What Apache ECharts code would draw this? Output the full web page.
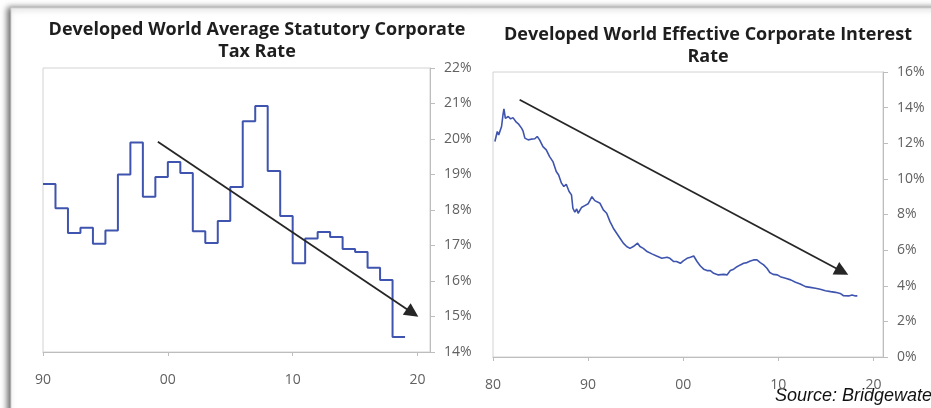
<!DOCTYPE html>
<html>
<head>
<meta charset="utf-8">
<script src="https://cdn.jsdelivr.net/npm/echarts@6/dist/echarts.min.js"></script>
<style>
  html, body { margin: 0; padding: 0; background: #ffffff; }
  #chart { width: 931px; height: 408px; }
</style>
</head>
<body>
<div id="chart"></div>
<script>
// Average statutory corporate tax rate, developed world (annual, %)
const taxYears = [1990, 1991, 1992, 1993, 1994, 1995, 1996, 1997, 1998, 1999,
                  2000, 2001, 2002, 2003, 2004, 2005, 2006, 2007, 2008, 2009,
                  2010, 2011, 2012, 2013, 2014, 2015, 2016, 2017, 2018, 2019];
const taxRates = [18.73, 18.05, 17.35, 17.5, 17.05, 17.42, 19.0, 19.9, 18.37, 18.93,
                  19.35, 19.04, 17.4, 17.07, 17.69, 18.65, 20.5, 20.93, 19.1, 17.83,
                  16.5, 17.2, 17.38, 17.24, 16.9, 16.82, 16.37, 16.03, 14.42, 14.42];

// Effective corporate interest rate, developed world (%)
const rateYears = [1980.2, 1980.45, 1980.6, 1980.9, 1981.05, 1981.15, 1981.3, 1981.6, 1981.85, 1982.1,
                   1982.45, 1982.7, 1983.0, 1983.15, 1983.35, 1983.7, 1984.0, 1984.4, 1984.65, 1984.9,
                   1985.25, 1985.6, 1985.95, 1986.3, 1986.65, 1986.9, 1987.2, 1987.45, 1987.7, 1988.0,
                   1988.25, 1988.4, 1988.6, 1988.8, 1988.95, 1989.3, 1989.65, 1990.0, 1990.4, 1990.7,
                   1991.25, 1991.6, 1991.95, 1992.3, 1992.65, 1993.0, 1993.35, 1993.7, 1994.05, 1994.4,
                   1994.75, 1995.2, 1995.45, 1995.8, 1996.2, 1996.7, 1997.2, 1997.75, 1998.3, 1998.6,
                   1999.0, 1999.3, 1999.7, 2000.0, 2000.4, 2000.75, 2001.1, 2001.45, 2001.8, 2002.15,
                   2002.5, 2002.85, 2003.2, 2003.7, 2004.25, 2004.6, 2004.95, 2005.3, 2005.65, 2006.0,
                   2006.35, 2006.7, 2007.05, 2007.4, 2007.75, 2008.1, 2008.45, 2008.8, 2009.1, 2009.45,
                   2009.9, 2010.2, 2010.75, 2011.3, 2011.8, 2012.3, 2012.85, 2013.35, 2013.9, 2014.4,
                   2014.95, 2015.5, 2016.0, 2016.5, 2016.85, 2017.4, 2017.75, 2018.1, 2018.3];
const rateValues = [12.1, 12.66, 12.47, 12.94, 13.6, 13.93, 13.4, 13.5, 13.37, 13.44,
                    13.18, 13.07, 12.85, 12.7, 12.29, 12.19, 12.23, 12.25, 12.38, 12.19,
                    11.81, 11.63, 11.25, 10.97, 10.41, 10.22, 9.76, 9.57, 9.7, 9.29,
                    9.1, 8.35, 8.13, 8.31, 8.07, 8.39, 8.5, 8.6, 9.0, 8.78,
                    8.63, 8.26, 8.07, 7.6, 7.23, 6.95, 6.67, 6.39, 6.2, 6.1,
                    6.2, 6.39, 6.2, 6.1, 5.92, 5.79, 5.67, 5.54, 5.6, 5.54,
                    5.36, 5.36, 5.26, 5.4, 5.54, 5.6, 5.67, 5.36, 5.11, 4.93,
                    4.85, 4.85, 4.7, 4.61, 4.64, 4.61, 4.85, 4.93, 5.07, 5.17,
                    5.26, 5.3, 5.39, 5.45, 5.45, 5.3, 5.17, 4.98, 4.74, 4.64,
                    4.61, 4.51, 4.42, 4.33, 4.2, 4.1, 3.95, 3.91, 3.86, 3.8,
                    3.72, 3.67, 3.63, 3.57, 3.44, 3.43, 3.48, 3.43, 3.43];

// Trend arrows: [year, value] start and end
const taxTrend = [[1999.2, 19.92], [2019.6, 15.1]];
const rateTrend = [[1982.8, 14.44], [2016.7, 4.8]];

// Axis tick labels
const taxXTickLabels = { 1990: '90', 2000: '00', 2010: '10', 2020: '20' };
const rateXTickLabels = { 1980: '80', 1990: '90', 2000: '00', 2010: '10', 2020: '20' };

const FONT = 'Open Sans';
const LINE_BLUE = '#3f54ae';
const AXIS_GREY = '#bdbdbd';
const LABEL_GREY = '#616161';

const zip = (xs, ys) => xs.map((x, i) => [x, ys[i]]);

function xAxisFor(gridIndex, min, labels) {
  return {
    type: 'value', gridIndex, min, max: 2021, interval: 10,
    axisLine: { show: true, lineStyle: { color: AXIS_GREY, width: 1 } },
    axisTick: { show: true, length: 4, lineStyle: { color: AXIS_GREY } },
    splitLine: { show: false },
    axisLabel: {
      margin: 21, fontFamily: FONT, fontSize: 14, color: LABEL_GREY,
      showMaxLabel: false,
      formatter: v => labels[Math.round(v)] || ''
    }
  };
}

function yAxisFor(gridIndex, min, max, interval) {
  return {
    type: 'value', gridIndex, position: 'right', min, max, interval,
    axisLine: { show: true, lineStyle: { color: AXIS_GREY, width: 1 } },
    axisTick: { show: true, inside: false, length: 5, lineStyle: { color: AXIS_GREY } },
    splitLine: { show: false },
    axisLabel: {
      margin: 14, fontFamily: FONT, fontSize: 14, color: LABEL_GREY,
      formatter: v => v + '%'
    }
  };
}

function trendArrow(pts) {
  return {
    silent: true,
    symbol: ['none', 'triangle'],
    symbolSize: [14, 14],
    label: { show: false },
    lineStyle: { color: '#262626', width: 1.8, type: 'solid' },
    itemStyle: { color: '#1a1a1a' },
    emphasis: { disabled: true },
    animation: false,
    data: [[{ coord: pts[0] }, { coord: pts[1] }]]
  };
}

const chart = echarts.init(document.getElementById('chart'), null, { renderer: 'canvas' });

chart.setOption({
  backgroundColor: '#ffffff',
  animation: false,
  graphic: [
    {
      type: 'rect', z: -10, silent: true,
      shape: { x: 11, y: 8, width: 940, height: 420 },
      style: { fill: '#ffffff', stroke: '#d6d6d6', lineWidth: 1,
               shadowBlur: 6, shadowColor: 'rgba(0,0,0,0.6)', shadowOffsetX: -3, shadowOffsetY: 0 }
    },
    {
      type: 'text', left: 775, top: 387, silent: true,
      style: { text: 'Source: Bridgewater', font: 'italic 18px "Liberation Sans", Arial, sans-serif', fill: '#111111' }
    }
  ],
  title: [
    {
      text: 'Developed World Average Statutory Corporate\nTax Rate',
      left: 252, top: 14, textAlign: 'center',
      textStyle: { fontFamily: FONT, fontSize: 18, fontWeight: 'bold', color: '#1e1e1e', lineHeight: 22 }
    },
    {
      text: 'Developed World Effective Corporate Interest\nRate',
      left: 703, top: 19, textAlign: 'center',
      textStyle: { fontFamily: FONT, fontSize: 18, fontWeight: 'bold', color: '#1e1e1e', lineHeight: 22 }
    }
  ],
  grid: [
    { left: 43, top: 68, right: 501, bottom: 56, show: true, borderColor: '#d2d2d2', borderWidth: 1, backgroundColor: 'transparent' },
    { left: 493, top: 72, right: 48, bottom: 51, show: true, borderColor: '#d2d2d2', borderWidth: 1, backgroundColor: 'transparent' }
  ],
  xAxis: [
    xAxisFor(0, 1990, taxXTickLabels),
    xAxisFor(1, 1980, rateXTickLabels)
  ],
  yAxis: [
    yAxisFor(0, 14, 22, 1),
    yAxisFor(1, 0, 16, 2)
  ],
  series: [
    {
      name: 'Statutory tax rate', type: 'line', xAxisIndex: 0, yAxisIndex: 0,
      step: 'end', showSymbol: false, symbol: 'none',
      lineStyle: { color: LINE_BLUE, width: 2 },
      data: zip(taxYears, taxRates),
      markLine: trendArrow(taxTrend)
    },
    {
      name: 'Effective interest rate', type: 'line', xAxisIndex: 1, yAxisIndex: 1,
      showSymbol: false, symbol: 'none', smooth: false,
      lineStyle: { color: LINE_BLUE, width: 1.6 },
      data: zip(rateYears, rateValues),
      markLine: trendArrow(rateTrend)
    }
  ]
});
</script>
</body>
</html>
